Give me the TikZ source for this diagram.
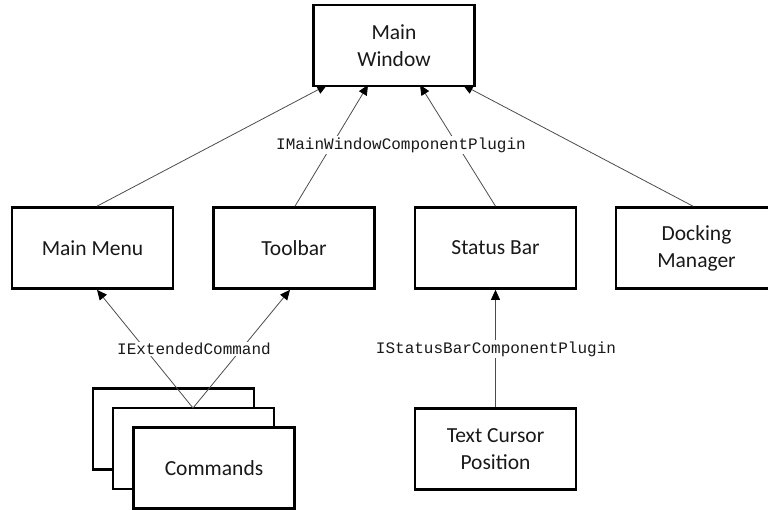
\documentclass[tikz,border=0pt]{standalone}
\usepackage{fontspec}
\setmainfont{Carlito}
\newfontfamily\codefont{Liberation Mono}
\usetikzlibrary{arrows.meta}
\begin{document}
\begin{tikzpicture}[x=1pt,y=-1pt,
  box/.style={draw=black,line width=2.6pt,fill=white,minimum width=161pt,minimum height=81pt,
    inner sep=0pt,align=center,font=\fontsize{21.5}{27}\selectfont,text=black!90},
  link/.style={draw=black!70,line width=0.8pt,-{Triangle[length=10pt,width=9pt,fill=black,color=black]}},
  tag/.style={fill=white,inner sep=1.5pt,font=\codefont\fontsize{16}{18}\selectfont,text=black!90}]
\useasboundingbox (0,0) rectangle (768,510);
% top level window
\node[box] (win) at (394,45.5) {Main\\Window};
% window components
\node[box] (menu) at (92.5,248) {Main Menu};
\node[box] (tool) at (294,248) {Toolbar};
\node[box] (status) at (495.5,248) {Status Bar};
\node[box] (dock) at (696.5,248) {Docking\\Manager};
% stacked command boxes
\node[box] (cmdA) at (173.5,429) {};
\node[box] (cmdB) at (193.5,448.5) {};
\node[box] (cmdC) at (214,468) {Commands};
% status bar item
\node[box] (cursor) at (495.5,449) {Text Cursor\\Position};
% anchor points on the edges
\coordinate (w1) at (327,85);
\coordinate (w2) at (368,85);
\coordinate (w3) at (420,85);
\coordinate (w4) at (463,85);
\coordinate (c0) at (193,408);
% connectors
\draw[link] (menu.north) ++(4.5,0) -- (w1);
\draw[link] (tool.north) ++(1,0) -- (w2);
\draw[link] (status.north) -- (w3);
\draw[link] (dock.north) ++(-3.5,0) -- (w4);
\draw[link] (c0) -- ([xshift=4.5pt]menu.south);
\draw[link] (c0) -- ([xshift=-4pt]tool.south);
\draw[link] (cursor.north) -- (status.south);
% interface labels
\node[tag] (lw) at (401,145) {IMainWindowComponentPlugin};
\node[tag] (le) at (194,349) {IExtendedCommand};
\node[tag] (ls) at (496,349) {IStatusBarComponentPlugin};
\end{tikzpicture}
\end{document}
